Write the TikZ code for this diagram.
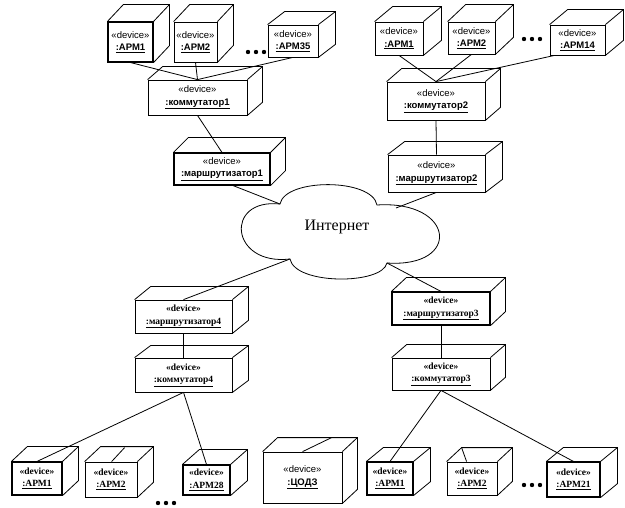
\documentclass[tikz,border=0pt]{standalone}
\usepackage{fontspec}
\setmainfont{Liberation Serif}
\setsansfont{Liberation Sans}
\begin{document}
\begin{tikzpicture}[x=1pt,y=-1pt,
  front/.style={draw, line width=0.8pt, inner sep=0pt, align=center},
  thickfront/.style={line width=1.1pt},
  face/.style={line width=0.8pt, line join=miter},
  conn/.style={line width=0.8pt},
  sanslbl/.style={font=\sffamily\fontsize{9.5}{12.5}\selectfont},
  seriflbl/.style={font=\rmfamily\bfseries\fontsize{9.5}{12.5}\selectfont},
  dotmark/.style={fill=black}]
\newcommand\devbox[9]{%
  \node[front,#1,minimum width={(#5-#3)*1pt},minimum height={(#6-#4)*1pt}] (#2) at ({(#3+#5)/2},{(#4+#6)/2}) {#9};
  \draw[face] (#2.north west) -- ++(#7,-#8) -- ([shift={(#7,-#8)}]#2.north east) -- ([shift={(#7,-#8)}]#2.south east) -- (#2.south east);
  \draw[face] (#2.north east) -- ++(#7,-#8);
}
\newcommand\sdev[1]{«device»\\\textbf{\underline{#1}}}
\newcommand\rdev[1]{«device»\\\underline{#1}}
\useasboundingbox (0,0) rectangle (625,508);
% top-left group
\devbox{sanslbl,thickfront}{t1}{108}{22}{153}{62}{16}{17}{\sdev{:АРМ1}}
\devbox{sanslbl}{t2}{174}{22}{217}{62}{16}{17}{\sdev{:АРМ2}}
\devbox{sanslbl}{t3}{268}{25}{318}{57}{17}{13}{\sdev{:АРМ35}}
% top-right group
\devbox{sanslbl}{r1}{375}{22}{423}{55}{18}{15}{\sdev{:АРМ1}}
\devbox{sanslbl}{r2}{448}{22}{495}{54}{18}{17}{\sdev{:АРМ2}}
\devbox{sanslbl}{r3}{550}{25}{605}{55}{18}{15}{\sdev{:АРМ14}}
% switches and routers (top)
\devbox{sanslbl}{sw1}{148}{80}{247}{115}{15}{13}{\sdev{:коммутатор1}}
\devbox{sanslbl,thickfront}{rt1}{174}{153}{270}{185}{15}{15}{\sdev{:маршрутизатор1}}
\devbox{sanslbl}{sw2}{387}{82}{485}{120}{15}{13}{\sdev{:коммутатор2}}
\devbox{sanslbl}{rt2}{388}{155}{485}{192}{17}{13}{\sdev{:маршрутизатор2}}
% bottom routers and switches
\devbox{seriflbl}{rt4}{135}{300}{232}{333}{16}{13}{\rdev{:маршрутизатор4}}
\devbox{seriflbl}{sw4}{135}{358}{232}{392}{16}{12}{\rdev{:коммутатор4}}
\devbox{seriflbl,thickfront}{rt3}{392}{292}{490}{325}{15}{14}{\rdev{:маршрутизатор3}}
\devbox{seriflbl}{sw3}{392}{358}{490}{390}{15}{13}{\rdev{:коммутатор3}}
% bottom row
\devbox{seriflbl,thickfront}{b1}{12}{462}{62}{495}{16}{15}{\rdev{:АРМ1}}
\devbox{seriflbl}{b2}{85}{462}{137}{497}{16}{15}{\rdev{:АРМ2}}
\devbox{seriflbl,thickfront}{b3}{183}{465}{230}{495}{17}{15}{\rdev{:АРМ28}}
\devbox{sanslbl}{cod}{263}{452}{342}{503}{15}{14}{\sdev{:ЦОДЗ}}
\devbox{seriflbl,thickfront}{b4}{367}{462}{413}{495}{17}{14}{\rdev{:АРМ1}}
\devbox{seriflbl}{b5}{447}{462}{497}{495}{15}{14}{\rdev{:АРМ2}}
\devbox{seriflbl,thickfront}{b6}{547}{462}{600}{497}{17}{14}{\rdev{:АРМ21}}
% short lines on top faces
\draw[conn] ([xshift=27pt]b2.north west) -- ++(13,-14);
\draw[conn] ([xshift=40pt]cod.north west) -- ++(29,-14);
\draw[conn] ([xshift=20pt]b5.north west) -- ++(-5,-14);
% cloud
\coordinate (cA) at (280,204);
\coordinate (cB) at (290,259);
\coordinate (cC) at (387,263);
\coordinate (cD) at (377,205);
\coordinate (cR) at (396,208);
\draw[line width=0.8pt] (cA) .. controls (285,178) and (372,178) .. (cD)
  .. controls (455,200) and (462,268) .. (cC)
  .. controls (382,285) and (295,285) .. (cB)
  .. controls (230,266) and (224,198) .. (cA) -- cycle;
\node[font=\rmfamily\fontsize{16}{16}\selectfont] (inet) at (337,227) {Интернет};
% connectors
\draw[conn] (t1.south) -- (sw1.north);
\draw[conn] (t2.south) -- (sw1.north);
\draw[conn] (t3.south) -- (sw1.north);
\draw[conn] (sw1.south) -- (rt1.north);
\draw[conn] (r1.south) -- (sw2.north);
\draw[conn] (r2.south) -- (sw2.north);
\draw[conn] ([xshift=5pt]r3.south west) -- (sw2.north);
\draw[conn] (sw2.south) -- (rt2.north);
\draw[conn] ([xshift=11pt]rt1.south) -- (cA);
\draw[conn] (rt2.south) -- (cR);
\draw[conn] (cB) -- (rt4.north);
\draw[conn] (cC) -- (rt3.north);
\draw[conn] (rt4.south) -- (sw4.north);
\draw[conn] (rt3.south) -- (sw3.north);
\draw[conn] (sw4.south) -- (b1.north);
\draw[conn] (sw4.south) -- (b3.north);
\draw[conn] (sw3.south) -- (b4.north);
\draw[conn] (sw3.south) -- (b6.north);
% dots
\foreach \x in {248,256,264} \fill[dotmark] (\x,52) circle (2.2);
\foreach \x in {524,532,540} \fill[dotmark] (\x,39) circle (2.2);
\foreach \x in {158,166,174} \fill[dotmark] (\x,503) circle (2.2);
\foreach \x in {524,532,540} \fill[dotmark] (\x,485) circle (2.2);
\end{tikzpicture}
\end{document}
